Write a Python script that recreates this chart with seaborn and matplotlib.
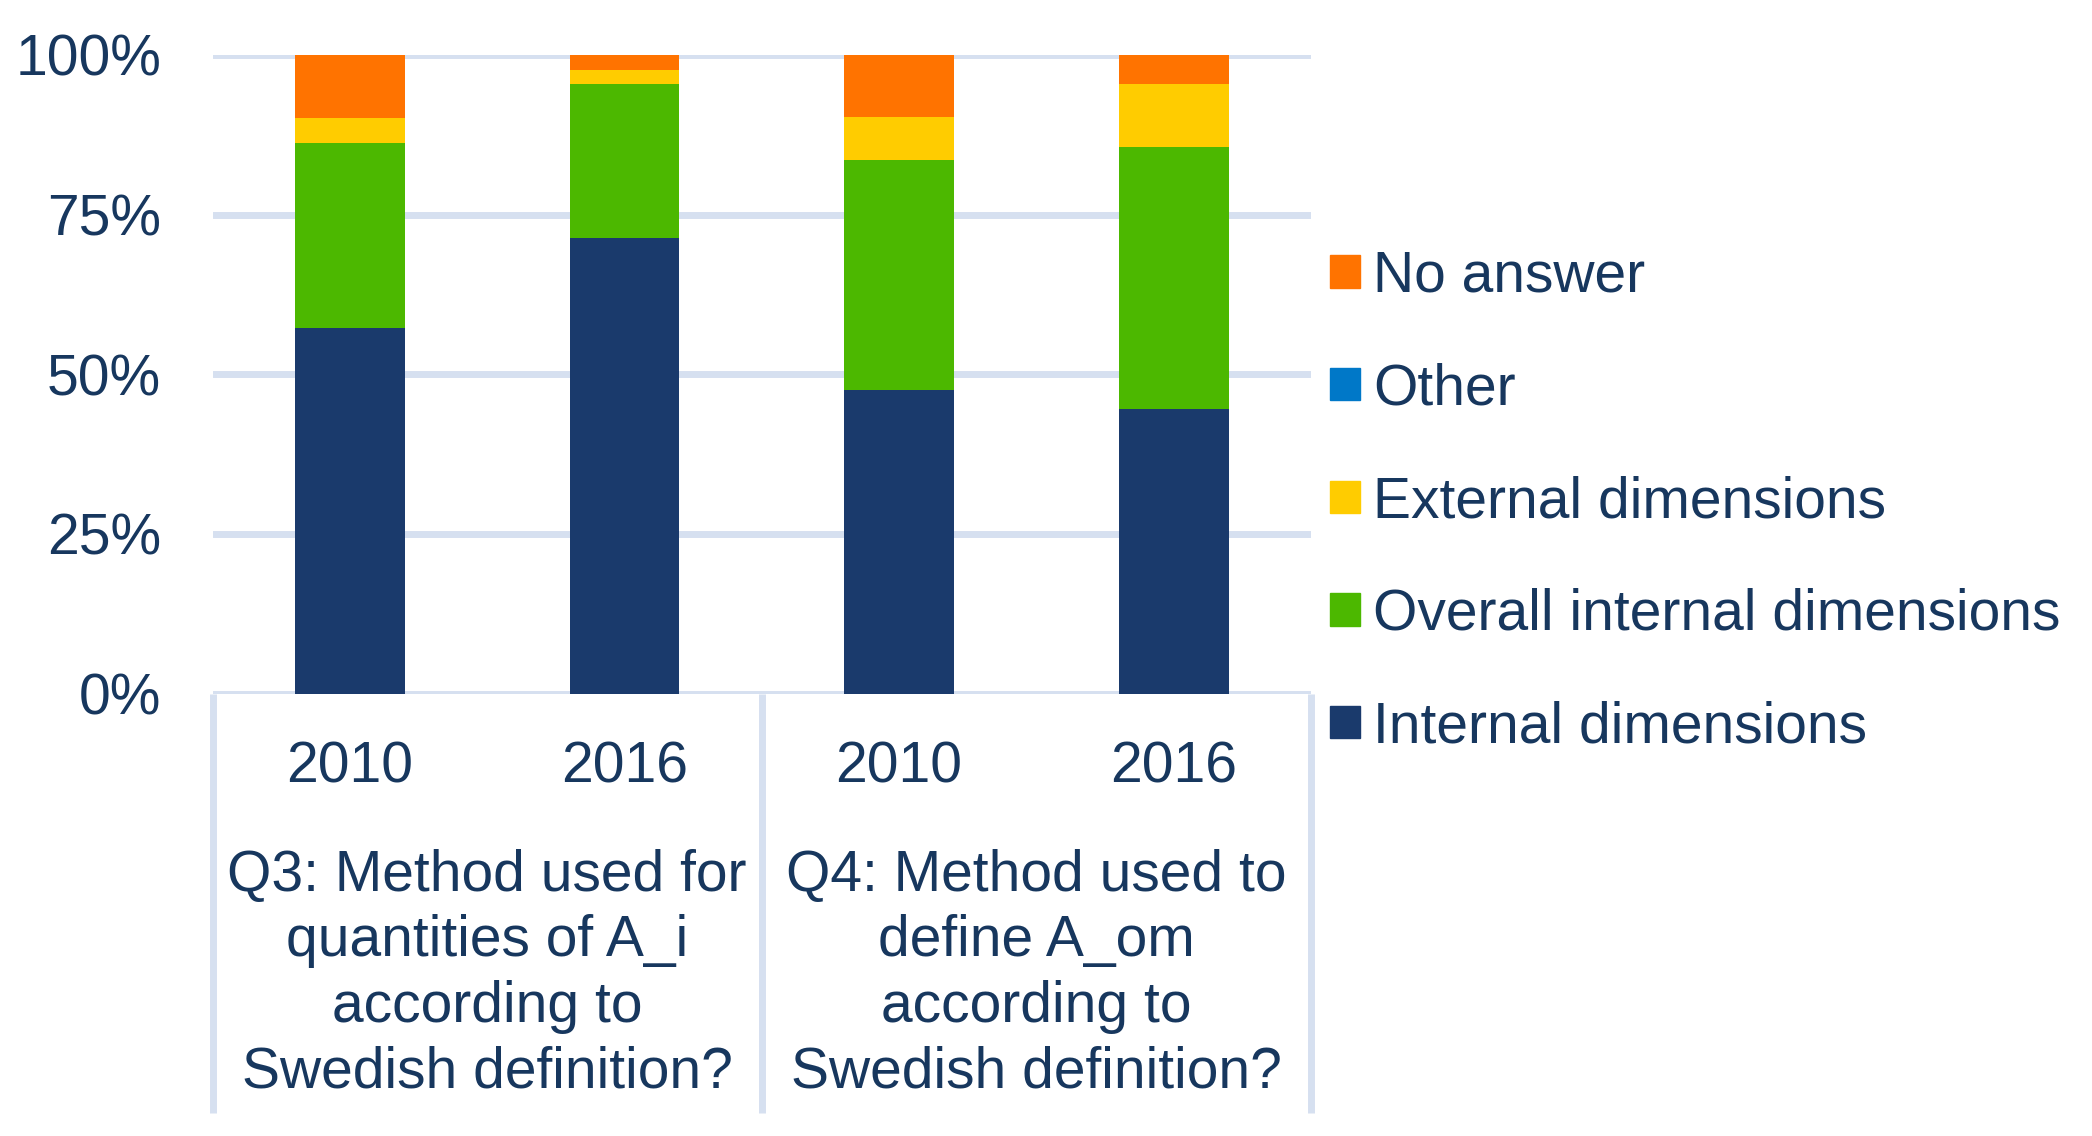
import matplotlib
matplotlib.use('Agg')
import matplotlib.pyplot as plt
import matplotlib.patches as mpatches
import matplotlib.transforms as mtransforms
import pandas as pd
import seaborn as sns

# Data (percent of answers)
bar_ids = ['Q3 2010', 'Q3 2016', 'Q4 2010', 'Q4 2016']
years = ['2010', '2016', '2010', '2016']
questions = ['Q3: Method used for\nquantities of A_i\naccording to\nSwedish definition?',
             'Q4: Method used to\ndefine A_om\naccording to\nSwedish definition?']
internal = [57.2, 71.3, 47.5, 44.5]
overall_internal = [29.0, 24.1, 36.0, 41.1]
external = [4.0, 2.2, 6.8, 9.8]
other = [0.0, 0.0, 0.0, 0.0]
no_answer = [9.8, 2.4, 9.7, 4.6]

series = ['Internal dimensions', 'Overall internal dimensions', 'External dimensions',
          'Other', 'No answer']
colors = ['#1A3A6C', '#4CB800', '#FFCC00', '#0078C8', '#FF7300']
text_color = '#17375E'
grid_color = '#D6E0F0'

df = pd.DataFrame({'bar': bar_ids,
                   'Internal dimensions': internal,
                   'Overall internal dimensions': overall_internal,
                   'External dimensions': external,
                   'Other': other,
                   'No answer': no_answer})

# cumulative sums for stacking
cum = df[series].cumsum(axis=1)
cum['bar'] = df['bar']

sns.set_style('white')
plt.rcParams['font.family'] = ['Liberation Sans', 'DejaVu Sans']
fs = 41

fig = plt.figure(figsize=(20.92, 11.36), dpi=100)
ax = fig.add_axes([0.1016, 0.3895, 0.6267 - 0.1016, 0.9516 - 0.3895])

# Draw from top layer down so each lower layer covers the one above
for name, col in reversed(list(zip(series, colors))):
    sns.barplot(data=cum, x='bar', y=name, color=col, width=0.4,
                saturation=1, linewidth=0, ax=ax, zorder=3)

ax.set_xlim(-0.5, 3.5)
ax.set_ylim(0, 100)
ax.set_yticks([0, 25, 50, 75, 100])
ax.set_yticklabels(['0%', '25%', '50%', '75%', '100%'])
ax.tick_params(axis='y', length=0, pad=37, labelsize=fs, labelcolor=text_color)
ax.set_xticks([])
ax.set_xlabel('')
ax.set_ylabel('')
for s in ax.spines.values():
    s.set_visible(False)
ax.yaxis.grid(True, color=grid_color, linewidth=5, zorder=0)
ax.set_axisbelow(True)

# Category axis box below the plot
trans = mtransforms.blended_transform_factory(ax.transData, ax.transAxes)
for xv in [-0.5, 1.5, 3.5]:
    ax.plot([xv, xv], [0, -0.657], transform=trans, color=grid_color,
            linewidth=5, clip_on=False, solid_capstyle='butt')

for i, yr in enumerate(years):
    ax.text(i, -0.116, yr, transform=trans, ha='center', va='center',
            fontsize=fs, color=text_color)
for j, q in enumerate(questions):
    ax.text(0.5 + 2 * j, -0.4395, q, transform=trans, ha='center', va='center',
            fontsize=fs, color=text_color, linespacing=1.28)

# Legend
handles = [mpatches.Patch(color=c, label=n) for n, c in zip(series, colors)][::-1]
fig.legend(handles=handles, loc='center left', bbox_to_anchor=(0.6358, 0.558),
           frameon=False, fontsize=fs, labelcolor=text_color,
           handlelength=0.53, handleheight=0.5, handletextpad=0.22,
           labelspacing=1.03, borderpad=0, borderaxespad=0)

plt.savefig('out.png', dpi=100)
